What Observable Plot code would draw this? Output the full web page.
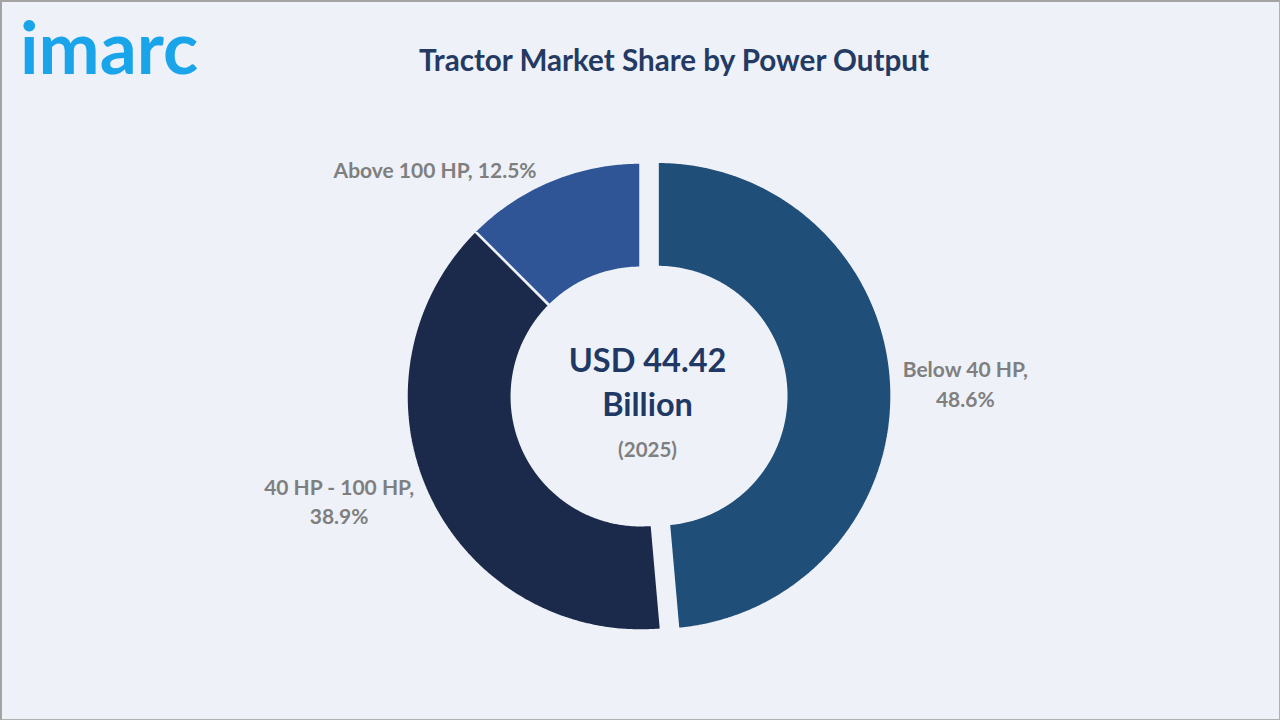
<!DOCTYPE html>
<html>
<head>
<meta charset="utf-8">
<script src="https://cdn.jsdelivr.net/npm/d3@7"></script>
<script src="https://cdn.jsdelivr.net/npm/@observablehq/plot@0.6"></script>
<style>
  html, body { margin: 0; padding: 0; background: #eef2f8; }
  #frame { position: relative; width: 1280px; height: 720px; overflow: hidden; background: #eef2f8; font-family: Lato, "Open Sans", sans-serif; }
  #chart { position: absolute; left: 0; top: 0; }
  #logo { position: absolute; left: 20px; top: 10px; font: 700 73px/73px Lato, sans-serif; color: #1aa4ea; white-space: nowrap; }
  #title { position: absolute; left: 674px; top: 45px; transform: translateX(-50%); font: 700 29.6px/29.6px Lato, sans-serif; color: #253a63; white-space: nowrap; }
  #border { position: absolute; inset: 0; box-sizing: border-box; border: 1px solid #b0b0b0; border-top: 2px solid #a3a3a3; border-left: 2px solid #a3a3a3; pointer-events: none; }
</style>
</head>
<body>
<div id="frame">
  <div id="chart"></div>
  <div id="logo"></div>
  <div id="title"></div>
  <div id="border"></div>
</div>
<script>
// ---- data ----
const logoText = "imarc";
const titleText = "Tractor Market Share by Power Output";
const categories = ["Below 40 HP", "40 HP - 100 HP", "Above 100 HP"];
const shares = [48.6, 38.9, 12.5];
const centerLines = ["USD 44.42", "Billion"];
const centerYear = "(2025)";

// ---- styles / layout ----
const sliceColors = ["#1f4e79", "#1b2a4a", "#2f5597"];
const bg = "#eef2f8";
const R_OUT = 1, R_IN = 0.55, EXPLODE = 0.073;
// label anchor positions in ring units (radius = 1)
const labelLayout = [
  {x: 1.388, y: 0.060, wrap: true},
  {x: -1.288, y: -0.444, wrap: true},
  {x: -0.878, y: 0.972, wrap: false}
];

document.getElementById("logo").textContent = logoText;
document.getElementById("title").textContent = titleText;

// ---- geometry derived from shares ----
const total = d3.sum(shares);
let acc = 0;
const slices = categories.map((c, i) => {
  const a0 = acc / total * 2 * Math.PI;
  acc += shares[i];
  const a1 = acc / total * 2 * Math.PI;
  return {cat: c, share: shares[i], a0, a1, mid: (a0 + a1) / 2};
});
const ringPoints = [];
slices.forEach((s, i) => {
  const off = i === 0 ? EXPLODE : 0;
  const ox = off * Math.sin(s.mid), oy = off * Math.cos(s.mid);
  const n = Math.max(8, Math.ceil((s.a1 - s.a0) / (Math.PI / 360)));
  for (let k = 0; k <= n; k++) {
    const a = s.a0 + (s.a1 - s.a0) * k / n;
    ringPoints.push({cat: s.cat, x: ox + R_OUT * Math.sin(a), y: oy + R_OUT * Math.cos(a)});
  }
  for (let k = n; k >= 0; k--) {
    const a = s.a0 + (s.a1 - s.a0) * k / n;
    ringPoints.push({cat: s.cat, x: ox + R_IN * Math.sin(a), y: oy + R_IN * Math.cos(a)});
  }
});

const fmt = d3.format(".1f");
const labels = slices.map((s, i) => ({
  x: labelLayout[i].x,
  y: labelLayout[i].y,
  text: labelLayout[i].wrap ? `${s.cat},\n${fmt(s.share)}%` : `${s.cat}, ${fmt(s.share)}%`
}));

const centerData = [
  {x: 0.030, y: 0.150, text: centerLines[0]},
  {x: 0.030, y: -0.040, text: centerLines[1]}
];
const yearData = [{x: 0.030, y: -0.230, text: centerYear}];

const chart = Plot.plot({
  width: 1280,
  height: 720,
  margin: 0,
  style: {background: "transparent", fontFamily: "Lato, sans-serif"},
  x: {domain: [-1, 1], range: [406, 874], axis: null},
  y: {domain: [-1, 1], range: [630, 162], axis: null},
  color: {domain: categories, range: sliceColors},
  marks: [
    Plot.line(ringPoints, {x: "x", y: "y", z: "cat", fill: "cat", stroke: bg, strokeWidth: 2.5, curve: "linear-closed", strokeLinejoin: "miter"}),
    Plot.text(labels, {x: "x", y: "y", text: "text", fill: "#7f7f7f", fontSize: 21, fontWeight: "bold", lineHeight: 1.4, textAnchor: "middle"}),
    Plot.text(centerData, {x: "x", y: "y", text: "text", fill: "#1f3864", fontSize: 32.5, fontWeight: "bold", textAnchor: "middle"}),
    Plot.text(yearData, {x: "x", y: "y", text: "text", fill: "#7f7f7f", fontSize: 20.5, fontWeight: "bold", textAnchor: "middle"})
  ]
});
document.getElementById("chart").appendChild(chart);
</script>
</body>
</html>
